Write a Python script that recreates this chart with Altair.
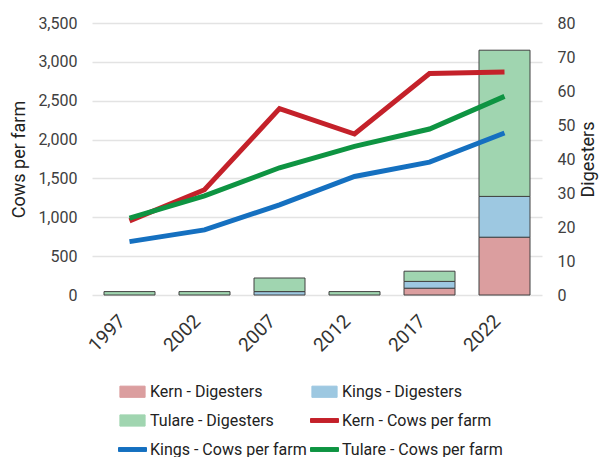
import altair as alt
import pandas as pd

# Census years
years = ["1997", "2002", "2007", "2012", "2017", "2022"]

# Number of dairy digesters by county
kern_digesters = [0, 0, 0, 0, 2, 17]
kings_digesters = [0, 0, 1, 0, 2, 12]
tulare_digesters = [1, 1, 4, 1, 3, 43]

# Average cows per dairy farm by county
kern_cows = [954, 1354, 2398, 2071, 2849, 2871]
kings_cows = [687, 838, 1160, 1525, 1710, 2084]
tulare_cows = [988, 1276, 1637, 1912, 2136, 2556]

bar_series = ["Kern - Digesters", "Kings - Digesters", "Tulare - Digesters"]
line_series = ["Kern - Cows per farm", "Kings - Cows per farm", "Tulare - Cows per farm"]
bar_colors = ["#DB9E9F", "#9DC8E1", "#A0D5B0"]
line_colors = ["#C4212A", "#1570C0", "#0E9442"]

# The legend fills column by column (3 rows x 2 columns), so the domain is
# ordered to read left-to-right, top-to-bottom as: bars first, then lines.
legend_domain = [bar_series[0], bar_series[2], line_series[1],
                 bar_series[1], line_series[0], line_series[2]]
legend_range = [bar_colors[0], bar_colors[2], line_colors[1],
                bar_colors[1], line_colors[0], line_colors[2]]

FONT = "Roboto"

bar_rows = []
for order, (name, vals) in enumerate(zip(bar_series, [kern_digesters, kings_digesters, tulare_digesters])):
    for yr, v in zip(years, vals):
        if v > 0:
            bar_rows.append({"year": yr, "series": name, "digesters": v, "order": order})
bars_df = pd.DataFrame(bar_rows)

line_rows = []
for order, (name, vals) in enumerate(zip(line_series, [kern_cows, kings_cows, tulare_cows])):
    for yr, v in zip(years, vals):
        line_rows.append({"year": yr, "series": name, "cows": v, "order": order})
lines_df = pd.DataFrame(line_rows)

color_scale = alt.Scale(domain=legend_domain, range=legend_range)
x_enc = alt.X(
    "year:N",
    sort=years,
    scale=alt.Scale(paddingInner=0.32, paddingOuter=0.16),
    axis=alt.Axis(
        title=None, labelAngle=-45, labelAlign="right", labelBaseline="alphabetic",
        labelFontSize=19, labelColor="#333333", labelFont=FONT,
        ticks=False, domain=False, labelPadding=27, labelOffset=-3,
    ),
)

# One legend for all six series: outlined boxes for digester counts,
# thin solid bands for herd sizes
is_bar = "indexof(datum.value, 'Digesters') >= 0"
legend = alt.Legend(
    title=None,
    orient="none",
    legendX=26,
    legendY=354,
    columns=2,
    columnPadding=1,
    rowPadding=6,
    symbolSize=784,
    symbolType={"expr": f"{is_bar} ? 'M-0.9,-0.4H0.9V0.4H-0.9Z' : 'M-1,-0.14H1V0.14H-1Z'"},
    symbolStrokeColor={"expr": f"{is_bar} ? '#404040' : scale('color', datum.value)"},
    symbolStrokeWidth=1,
    symbolOpacity=1,
    labelFont=FONT,
    labelFontSize=16,
    labelColor="#222222",
    labelOffset=3,
    labelLimit=300,
)

bars = alt.Chart(bars_df).mark_bar(stroke="#404040").encode(
    x=x_enc,
    y=alt.Y(
        "digesters:Q",
        stack="zero",
        scale=alt.Scale(domain=[0, 80], nice=False),
        axis=alt.Axis(
            orient="right", values=list(range(0, 81, 10)), title="Digesters",
            titleAngle=270, titleBaseline="top", titleFont=FONT, titleFontSize=18,
            titleFontWeight="normal", titleColor="#222222", titlePadding=5,
            labelFont=FONT, labelFontSize=16, labelColor="#404040",
            ticks=False, domain=False, grid=False, labelPadding=15,
        ),
    ),
    color=alt.Color("series:N", scale=color_scale, legend=legend),
    order=alt.Order("order:Q"),
)

lines = alt.Chart(lines_df).mark_line(strokeWidth=5).encode(
    x=x_enc,
    y=alt.Y(
        "cows:Q",
        scale=alt.Scale(domain=[0, 3500], nice=False),
        axis=alt.Axis(
            orient="left", values=list(range(0, 3501, 500)), format=",d",
            title="Cows per farm", titleFont=FONT, titleFontSize=18,
            titleFontWeight="normal", titleColor="#222222", titlePadding=9,
            labelFont=FONT, labelFontSize=16, labelColor="#404040",
            ticks=False, domain=False, grid=True, gridColor="#E3E3E3",
            gridWidth=1.5, labelPadding=15,
        ),
    ),
    color=alt.Color("series:N", scale=color_scale, legend=None),
    detail="order:N",
)

chart = (
    alt.layer(bars, lines)
    .resolve_scale(y="independent")
    .properties(
        width=450,
        height=272,
        autosize=alt.AutoSizeParams(type="none"),
        padding={"left": 92, "top": 23, "right": 61, "bottom": 162},
        background="white",
    )
    .configure_view(stroke=None)
)

chart.save("out.html", embed_options={"renderer": "svg", "actions": False})
